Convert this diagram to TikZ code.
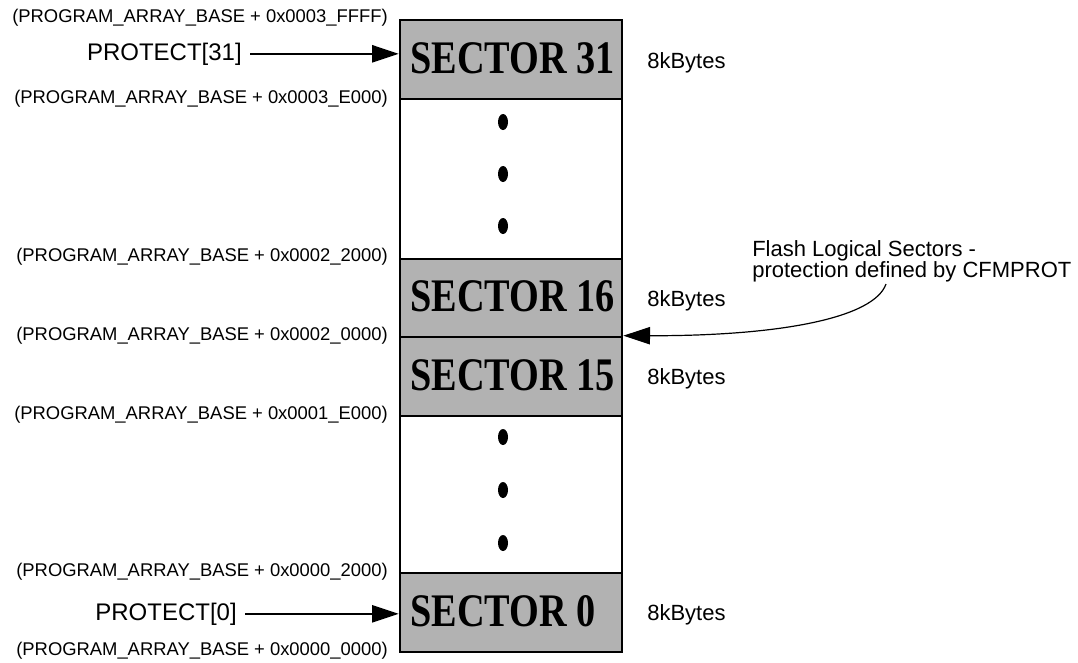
\documentclass[tikz,border=0pt]{standalone}
\usepackage{fontspec}
\usepackage{graphicx}
\setmainfont{Liberation Sans}
\newfontfamily\sectfont{Liberation Serif}
\usetikzlibrary{arrows.meta}
\definecolor{secgray}{gray}{0.70}
\begin{document}
\begin{tikzpicture}[x=0.75pt,y=-0.75pt,
  addr/.style={anchor=base east, inner sep=0pt, font={\fontsize{13.8pt}{16pt}\selectfont}},
  prot/.style={anchor=base east, inner sep=0pt, font={\fontsize{18pt}{21pt}\selectfont}},
  sizelbl/.style={anchor=base west, inner sep=0pt, font={\fontsize{16.5pt}{19pt}\selectfont}},
  notelbl/.style={anchor=base west, inner sep=0pt, font={\fontsize{16.5pt}{19pt}\selectfont}},
  sectorbox/.style={draw=black, fill=secgray, line width=2pt, minimum width=166.5pt, inner sep=0pt},
  secttext/.style={anchor=base west, inner sep=0pt, font={\sectfont\bfseries\fontsize{35pt}{40pt}\selectfont}},
  dotmark/.style={fill=black},
  arr/.style={-{Triangle[length=20pt,width=13pt]}, line width=1.2pt},
  curvearr/.style={-{Triangle[length=20pt,width=13pt]}, line width=0.9pt},
]
\fill[white] (0,0) rectangle (1078,662);
\useasboundingbox (0,0) rectangle (1078,662);

% column outline
\node[draw=black, line width=2pt, minimum width=166.5pt, minimum height=474pt, inner sep=0pt] (col) at (511,336) {};

% sectors
\node[sectorbox, minimum height=59.25pt] (s31) at (511,59.5) {};
\node[sectorbox, minimum height=58.5pt] (s16) at (511,298) {};
\node[sectorbox, minimum height=59.25pt] (s15) at (511,376.5) {};
\node[sectorbox, minimum height=59.25pt] (s0) at (511,612.5) {};

\node[secttext] (t31) at (410,73) {\scalebox{0.82}[1]{SECTOR 31}};
\node[secttext] (t16) at (410,311) {\scalebox{0.82}[1]{SECTOR 16}};
\node[secttext] (t15) at (410,390) {\scalebox{0.82}[1]{SECTOR 15}};
\node[secttext] (t0) at (410,626) {\scalebox{0.82}[1]{SECTOR 0}};

% dots
\fill[dotmark] (503,122) ellipse [x radius=3.75pt, y radius=6pt];
\fill[dotmark] (503,174) ellipse [x radius=3.75pt, y radius=6pt];
\fill[dotmark] (503,226) ellipse [x radius=3.75pt, y radius=6pt];
\fill[dotmark] (503,437) ellipse [x radius=3.75pt, y radius=6pt];
\fill[dotmark] (503,490) ellipse [x radius=3.75pt, y radius=6pt];
\fill[dotmark] (503,543) ellipse [x radius=3.75pt, y radius=6pt];

% sizes
\node[sizelbl] (k31) at (647,68) {8kBytes};
\node[sizelbl] (k16) at (647,306) {8kBytes};
\node[sizelbl] (k15) at (647,384) {8kBytes};
\node[sizelbl] (k0) at (647,620) {8kBytes};

% addresses
\node[addr] (a1) at (388,22) {(PROGRAM\_ARRAY\_BASE + 0x0003\_FFFF)};
\node[addr] (a2) at (388,103) {(PROGRAM\_ARRAY\_BASE + 0x0003\_E000)};
\node[addr] (a3) at (388,261) {(PROGRAM\_ARRAY\_BASE + 0x0002\_2000)};
\node[addr] (a4) at (388,340) {(PROGRAM\_ARRAY\_BASE + 0x0002\_0000)};
\node[addr] (a5) at (388,419) {(PROGRAM\_ARRAY\_BASE + 0x0001\_E000)};
\node[addr] (a6) at (388,576) {(PROGRAM\_ARRAY\_BASE + 0x0000\_2000)};
\node[addr] (a7) at (388,655) {(PROGRAM\_ARRAY\_BASE + 0x0000\_0000)};

% protect labels
\node[prot] (p31) at (242,60) {PROTECT[31]};
\node[prot] (p0) at (237,620) {PROTECT[0]};
\draw[arr] ([xshift=6pt]p31.east) -- (p31.east -| s31.west);
\draw[arr] ([xshift=6pt]p0.east) -- (p0.east -| s0.west);

% note
\node[notelbl] (n1) at (752,256) {Flash Logical Sectors -};
\node[notelbl] (n2) at (752,277) {protection defined by CFMPROT};
\coordinate (nstart) at (886,284);
\draw[curvearr] (nstart) .. controls (874,318) and (780,336) .. (s15.north east);
\end{tikzpicture}
\end{document}
